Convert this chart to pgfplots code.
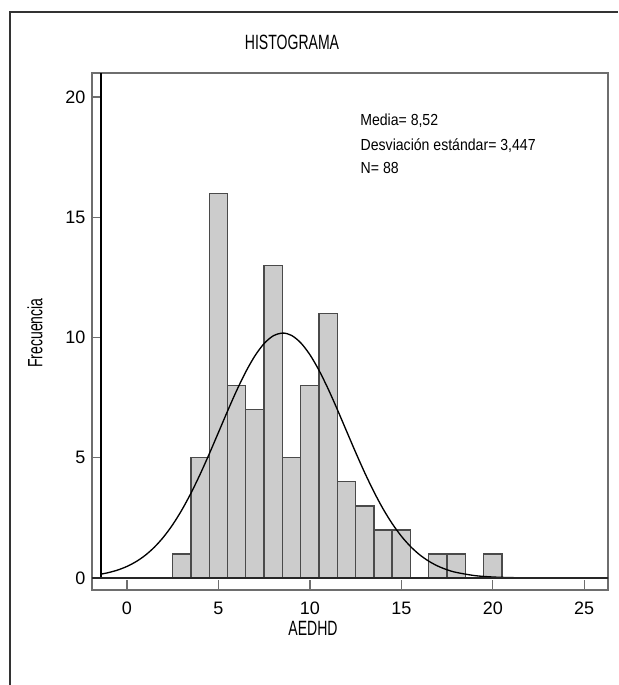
\documentclass[border=0pt]{standalone}
\usepackage{pgfplots}
\pgfplotsset{compat=1.18}
\usepackage{fontspec}
\setmainfont{Liberation Sans}
\newfontfamily\cond[FakeStretch=0.68]{Liberation Sans}
\newfontfamily\annfont[FakeStretch=0.88]{Liberation Sans}
\definecolor{barfill}{HTML}{CCCCCC}
\definecolor{baredge}{HTML}{4A4A4A}
\definecolor{boxgray}{HTML}{6E6E6E}

\begin{document}
\begin{tikzpicture}[x=1pt,y=1pt]
% page is 618x685 px, 1 px = 0.75pt, origin at the axis' lower left corner
\useasboundingbox (-69,-71.25) rectangle (394.5,442.5);
\draw[line width=1pt, black!80] (-61.5,-71.25) -- (-61.5,433.5) -- (394.5,433.5);
\begin{axis}[
  at={(0,0)}, anchor=south west,
  scale only axis, width=387pt, height=387.75pt,
  xmin=-1.91, xmax=26.3, ymin=-0.5, ymax=21,
  axis line style={boxgray, line width=0.9pt},
  xtick={0,5,...,25}, ytick={0,5,...,20},
  xtick pos=bottom, ytick pos=left,
  tick align=inside, major tick length=7.5pt,
  tick style={boxgray, line width=1pt},
  tick label style={font=\fontsize{13.5}{15}\selectfont},
  xticklabel style={inner sep=1pt, yshift=-8pt},
  yticklabel style={xshift=-1.5pt},
  /pgf/number format/assume math mode=true,
  clip=true,
]
\addplot[ybar interval, fill=barfill, draw=baredge, line width=1pt] coordinates {
  (2.5,1) (3.5,5) (4.5,16) (5.5,8) (6.5,7) (7.5,13) (8.5,5) (9.5,8) (10.5,11)
  (11.5,4) (12.5,3) (13.5,2) (14.5,2) (15.5,0) (16.5,1) (17.5,1) (18.5,0)
  (19.5,1) (20.5,0)};
% normal curve, mean 8.52, sd 3.447, n 88
\addplot[black, line width=1pt, smooth, no marks] coordinates {
  (-1.42,0.159) (-1,0.225) (-0.5,0.332) (0,0.480) (0.5,0.680) (1,0.943)
  (1.5,1.280) (2,1.702) (2.5,2.216) (3,2.826) (3.5,3.527) (4,4.311)
  (4.5,5.160) (5,6.047) (5.5,6.939) (6,7.797) (6.5,8.578) (7,9.241)
  (7.5,9.749) (8,10.070) (8.52,10.185) (9,10.087) (9.5,9.781) (10,9.288)
  (10.5,8.636) (11,7.863) (11.5,7.009) (12,6.118) (12.5,5.230) (13,4.377)
  (13.5,3.587) (14,2.878) (14.5,2.262) (15,1.740) (15.5,1.311) (16,0.967)
  (16.5,0.699) (17,0.494) (17.5,0.342) (18,0.232) (19,0.100) (20,0.040)
  (21,0.015) (22,0.005) (23,0.0015) (24,0.0004) (25,0.0001) (26.3,0)};
\draw[black, line width=1pt] (axis cs:-1.42,0) -- (axis cs:-1.42,21);
\draw[black!85, line width=1pt] (axis cs:-1.91,0) -- (axis cs:26.3,0);
\node[anchor=base west, font=\annfont\fontsize{12}{14}\selectfont] at (axis cs:12.5,18.8) {Media= 8,52};
\end{axis}
\node[font=\cond\fontsize{15.5}{17}\selectfont, inner sep=1pt] at (165.75,-28.5) {AEDHD};
\node[font=\cond\fontsize{15.5}{17}\selectfont] at (150,411) {HISTOGRAMA};
\node[font=\cond\fontsize{15.5}{17}\selectfont, rotate=90] at (-42.75,192.75) {Frecuencia};
\node[anchor=base west, font=\annfont\fontsize{12}{14}\selectfont] at (198,329.25) {Desviación estándar= 3,447};
\node[anchor=base west, font=\annfont\fontsize{12}{14}\selectfont] at (198,312) {N= 88};
\end{tikzpicture}
\end{document}
